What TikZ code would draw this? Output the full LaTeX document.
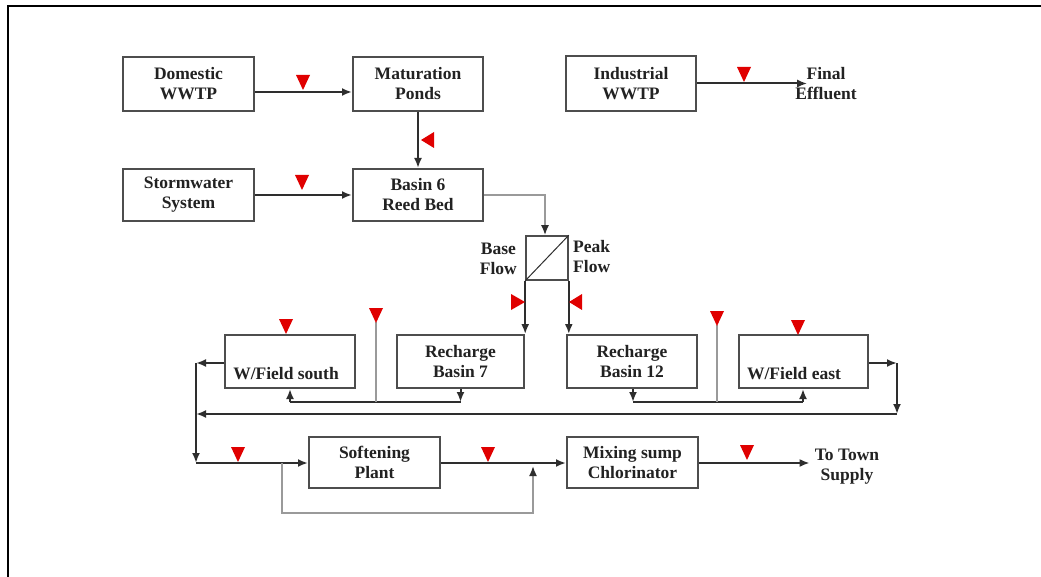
\documentclass[tikz,border=0pt]{standalone}
\usepackage{fontspec}
\setmainfont{Liberation Serif}
\usetikzlibrary{arrows.meta}
\definecolor{lnc}{HTML}{2E2E2E}
\definecolor{glc}{HTML}{9A9A9A}
\definecolor{txc}{HTML}{222222}
\definecolor{valvec}{HTML}{E00000}
\begin{document}
\begin{tikzpicture}[x=1pt,y=-1pt,
  boxn/.style={draw=lnc!85, line width=2pt, inner sep=0pt, align=center,
    font=\bfseries\fontsize{17.5}{20}\selectfont, text=txc},
  txt/.style={inner sep=0pt, align=center, font=\bfseries\fontsize{17.5}{20}\selectfont, text=txc},
  ln/.style={draw=lnc, line width=2pt},
  gln/.style={draw=glc, line width=1.8pt},
  arr/.style={ln, -{Latex[length=10pt,width=8pt]}},
  garr/.style={gln, -{Latex[length=10pt,width=8pt,fill=lnc,color=lnc]}},
  vdown/.pic={\fill[valvec] (-7,-15) -- (7,-15) -- (0,0) -- cycle;},
  vleft/.pic={\fill[valvec] (13,-8) -- (13,8) -- (0,0) -- cycle;},
  vright/.pic={\fill[valvec] (-14,-8) -- (-14,8) -- (0,0) -- cycle;}
]
\useasboundingbox (0,0) rectangle (1041,577);
\fill[white] (0,0) rectangle (1041,577);
% frame
\draw[line width=2.5pt, black] (8,577) -- (8,6) -- (1041,6);

% boxes
\node[boxn, minimum width=131pt, minimum height=54pt] (dom) at (188.5,84) {Domestic\\WWTP};
\node[boxn, minimum width=130pt, minimum height=54pt] (mat) at (418,84) {Maturation\\Ponds};
\node[boxn, minimum width=130pt, minimum height=55pt] (ind) at (631,83.5) {Industrial\\WWTP};
\node[boxn, minimum width=131pt, minimum height=52pt] (storm) at (188.5,195) {Stormwater\\System};
\node[boxn, minimum width=130pt, minimum height=52pt] (bas6) at (418,195) {Basin 6\\Reed Bed};
\node[draw=lnc!85, line width=1.6pt, minimum width=42pt, minimum height=44pt, inner sep=0pt] (split) at (547,258) {};
\node[boxn, minimum width=130pt, minimum height=53pt] (wfs) at (290,361.5) {};
\node[boxn, minimum width=127pt, minimum height=53pt] (rb7) at (460.5,361.5) {Recharge\\Basin 7};
\node[boxn, minimum width=130pt, minimum height=53pt] (rb12) at (632,361.5) {Recharge\\Basin 12};
\node[boxn, minimum width=129pt, minimum height=53pt] (wfe) at (803.5,361.5) {};
\node[boxn, minimum width=131pt, minimum height=51pt] (soft) at (374.5,462.5) {Softening\\Plant};
\node[boxn, minimum width=131pt, minimum height=51pt] (mix) at (632.5,462.5) {Mixing sump\\Chlorinator};

% texts
\node[txt] (wfst) at (286,374) {W/Field south};
\node[txt] (wfet) at (794,374) {W/Field east};
\node[txt] (final) at (826,84) {Final\\Effluent};
\node[txt] (town) at (847,467) {To Town\\Supply};
\node[txt, anchor=east] (base) at (517,259) {Base\\Flow};
\node[txt, anchor=west] (peak) at (573,257) {Peak\\Flow};

% splitter diagonal
\draw[lnc, line width=1pt] (split.south west) -- (split.north east);

% top connectors
\coordinate (fe) at ([xshift=12pt]final.west);
\coordinate (de) at ([yshift=-8pt]dom.east);
\draw[arr] (de) -- (de -| mat.west);
\draw[arr] (mat.south) -- (bas6.north);
\draw[arr] (storm.east) -- (bas6.west);
\draw[arr] (ind.east) -- (fe |- ind.east);
\draw[garr] (bas6.east) -| ([xshift=-2pt]split.north);

% base / peak flow
\draw[arr] (split.south west) -- (split.south west |- rb7.north);
\draw[arr] (split.south east) -- (split.south east |- rb12.north);

% left group
\coordinate (j7) at (460.5,402);
\coordinate (js) at (290,402);
\coordinate (br1) at (376,322);
\draw[ln] (js) -- (j7);
\draw[arr] (rb7.south) -- (j7);
\draw[arr] (js) -- (wfs.south);
\draw[gln] (br1) -- (br1 |- js);

% right group
\coordinate (j12) at (633,402);
\coordinate (je) at (803,402);
\coordinate (br2) at (717,325);
\draw[ln] (j12) -- (je);
\draw[arr] (j12 |- rb12.south) -- (j12);
\draw[arr] (je) -- (je |- wfe.south);
\draw[gln] (br2) -- (br2 |- je);

% return collector
\coordinate (lft) at (196,363);
\coordinate (lftb) at (196,463);
\coordinate (rgt) at (897,363);
\coordinate (rgtb) at (897,414);
\draw[arr] ([yshift=-1.5pt]wfs.west) -- (lft);
\draw[arr] ([yshift=-1.5pt]wfe.east) -- (rgt);
\draw[arr] (rgt) -- (rgtb);
\draw[arr] (rgtb) -- (lft |- rgtb);
\draw[arr] (lft) -- (lftb);

% bottom row
\draw[arr] (lftb) -- (soft.west |- lftb);
\coordinate (bp1) at (282,463);
\coordinate (bp2) at (533,463);
\draw[garr] (bp1) -- (282,513) -- (533,513) -- ([yshift=-3pt]bp2);
\draw[arr] (soft.east |- lftb) -- (mix.west |- lftb);
\draw[arr] (mix.east |- lftb) -- ([xshift=-5pt]town.west |- lftb);

% valves
\pic at (303,90) {vdown};
\pic at (421,140) {vleft};
\pic at (302,190) {vdown};
\pic at (744,82) {vdown};
\pic at (525,302) {vright};
\pic at (569,302) {vleft};
\pic at (286,334) {vdown};
\pic at (376,323) {vdown};
\pic at (717,326) {vdown};
\pic at (798,335) {vdown};
\pic at (238,462) {vdown};
\pic at (488,462) {vdown};
\pic at (747,460) {vdown};
\end{tikzpicture}
\end{document}
